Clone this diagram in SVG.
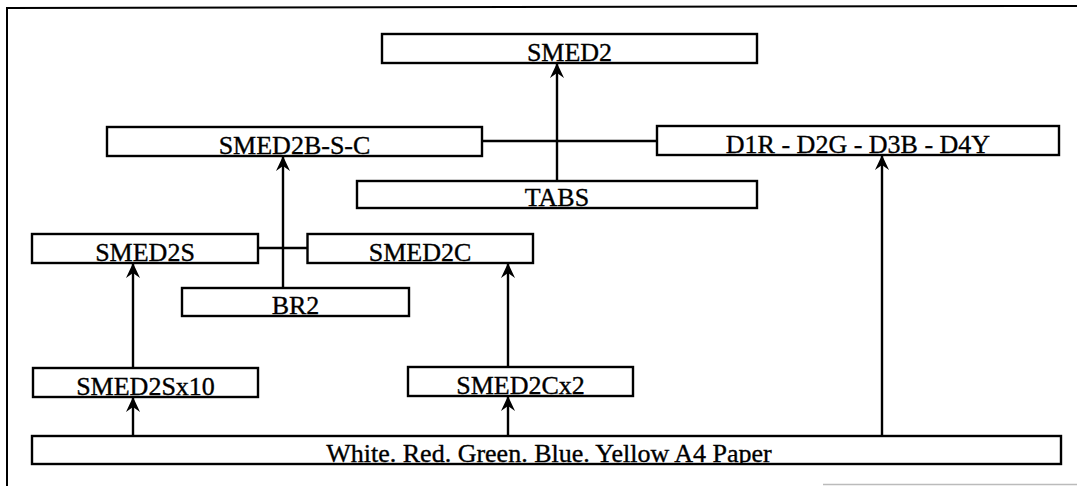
<svg xmlns="http://www.w3.org/2000/svg" width="1077" height="486" viewBox="0 0 1077 486">
<style>
.box{fill:#fff;stroke:#000;stroke-width:2.4}
.lbl{font-family:"Liberation Serif","Times New Roman",serif;font-size:26px;fill:#000;stroke:#000;stroke-width:0.35;text-anchor:middle}
.con{stroke:#000;stroke-width:2.4;fill:none}
</style>
<defs>
<marker id="ah" markerUnits="userSpaceOnUse" markerWidth="15" markerHeight="14" refX="15" refY="7" orient="auto" viewBox="0 0 15 14">
<path d="M0,0 L15,7 L0,14 L5,7 z" fill="#000"/>
</marker>
<clipPath id="cpPaper"><rect x="32" y="436" width="1029" height="28"/></clipPath>
</defs>
<rect width="1077" height="486" fill="#fff"/>
<g id="frame">
<line x1="7" y1="8" x2="1077" y2="6" stroke="#000" stroke-width="2"/>
<line x1="7" y1="7" x2="7" y2="486" stroke="#000" stroke-width="2"/>
<line x1="823" y1="484.5" x2="1077" y2="484.5" stroke="#bbb" stroke-width="1.5"/>
</g>
<g id="connectors">
<line class="con" x1="482" y1="141" x2="657" y2="141"/>
<line class="con" x1="258" y1="248" x2="307.5" y2="248"/>
<line class="con" x1="557" y1="181" x2="557" y2="63" marker-end="url(#ah)"/>
<line class="con" x1="283" y1="288" x2="283" y2="156" marker-end="url(#ah)"/>
<line class="con" x1="882" y1="436" x2="882" y2="155" marker-end="url(#ah)"/>
<line class="con" x1="133" y1="368" x2="133" y2="263" marker-end="url(#ah)"/>
<line class="con" x1="508" y1="367" x2="508" y2="263" marker-end="url(#ah)"/>
<line class="con" x1="133" y1="436" x2="133" y2="397" marker-end="url(#ah)"/>
<line class="con" x1="508" y1="436" x2="508" y2="396" marker-end="url(#ah)"/>
</g>
<g id="smed2"><rect class="box" x="382" y="34" width="375" height="29"/><text class="lbl" x="569.5" y="61">SMED2</text></g>
<g id="smed2bsc"><rect class="box" x="107" y="127" width="375" height="29"/><text class="lbl" x="294.5" y="154">SMED2B-S-C</text></g>
<g id="d1r"><rect class="box" x="657" y="126" width="402" height="29"/><text class="lbl" x="858" y="153">D1R - D2G - D3B - D4Y</text></g>
<g id="tabs"><rect class="box" x="357" y="181" width="400" height="27"/><text class="lbl" x="557" y="206">TABS</text></g>
<g id="smed2s"><rect class="box" x="32" y="234" width="226" height="29"/><text class="lbl" x="145" y="261">SMED2S</text></g>
<g id="smed2c"><rect class="box" x="307.5" y="234" width="225.5" height="29"/><text class="lbl" x="420" y="261">SMED2C</text></g>
<g id="br2"><rect class="box" x="182" y="288" width="227" height="28"/><text class="lbl" x="295.5" y="314">BR2</text></g>
<g id="smed2sx10"><rect class="box" x="33" y="368" width="225" height="29"/><text class="lbl" x="145.5" y="395">SMED2Sx10</text></g>
<g id="smed2cx2"><rect class="box" x="408" y="367" width="225" height="29"/><text class="lbl" x="520.5" y="394">SMED2Cx2</text></g>
<g id="paper"><rect class="box" x="32" y="436" width="1029" height="28"/><text class="lbl" x="549" y="462" clip-path="url(#cpPaper)">White. Red. Green. Blue. Yellow A4 Paper</text></g>
</svg>
